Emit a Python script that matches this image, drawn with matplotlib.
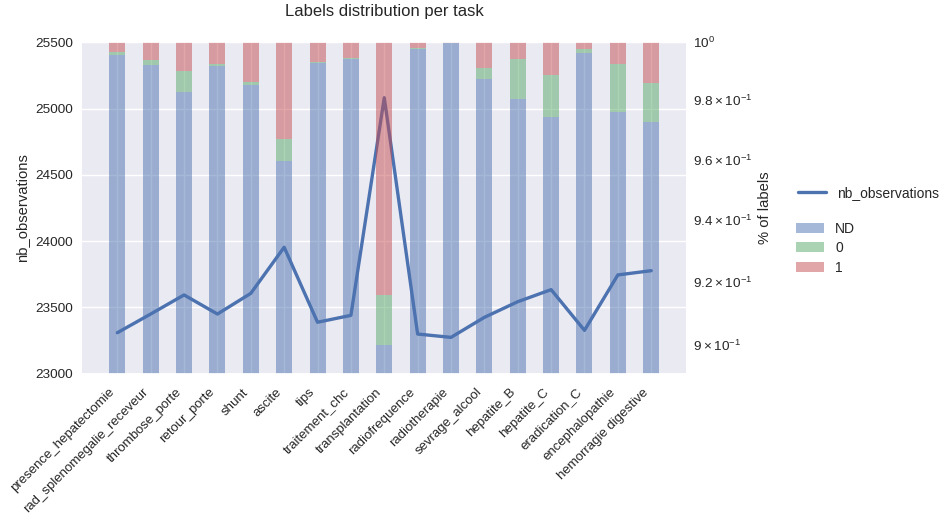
import numpy as np
import matplotlib as mpl
import matplotlib.pyplot as plt
import seaborn as sns

################################################################################
########    DATA
################################################################################

tasks = ['presence_hepatectomie', 'rad_splenomegalie_receveur', 'thrombose_porte',
         'retour_porte', 'shunt', 'ascite', 'tips', 'traitement_chc',
         'transplantation', 'radiofrequence', 'radiotherapie', 'sevrage_alcool',
         'hepatite_B', 'hepatite_C', 'eradication_C', 'encephalopathie',
         'hemorragie digestive']

# fraction of labels per task
frac_nd = [0.9956, 0.9921, 0.9828, 0.9918, 0.9852, 0.9594, 0.9927, 0.9942,
           0.8999, 0.9977, 0.9996, 0.9874, 0.9804, 0.9742, 0.9964, 0.9761,
           0.9726]
frac_0 = [0.0011, 0.0017, 0.0074, 0.0005, 0.0011, 0.0075, 0.0005, 0.0004,
          0.0157, 0.0004, 0.0001, 0.0038, 0.0137, 0.0145, 0.0014, 0.0164,
          0.0134]
frac_1 = [1 - a - b for a, b in zip(frac_nd, frac_0)]

nb_observations = [23309, 23450, 23594, 23450, 23606, 23954, 23388, 23440,
                   25082, 23299, 23274, 23425, 23543, 23634, 23327, 23745,
                   23777]

################################################################################
########    PLOT
################################################################################

sns.set_theme(style='darkgrid', context='notebook',
              rc={'xtick.labelsize': 9.5, 'ytick.labelsize': 9.7,
                  'legend.fontsize': 10, 'axes.labelsize': 10.6,
                  'axes.titlesize': 12})
plt.rcParams['font.family'] = ['Liberation Sans', 'DejaVu Sans']

fig = plt.figure(figsize=(9.43, 5.19), dpi=100)
ax = fig.add_axes([0.0862, 0.28, 0.6426, 0.6385])
x = np.arange(len(tasks))

# line on the primary axis (drawn under the translucent bars)
ax.plot(x, nb_observations, color='#4C72B0', lw=2.4, label='nb_observations')
ax.set_ylim(23000, 25500)
ax.set_ylabel('nb_observations')
ax.set_xticks(x)
ax.set_xticklabels(tasks, rotation=45, ha='right')
ax.set_xlim(-1.08, 17.08)
ax.tick_params(axis='y', pad=6, length=0)
ax.tick_params(axis='x', pad=9, length=0)
ax.set_title('Labels distribution per task', pad=19)

# stacked bars on the twin axis
ax2 = ax.twinx()
ax2.grid(False)
ax2.set_yscale('log')
w = 0.48
ax2.bar(x, frac_nd, width=w, color='#4C72B0', alpha=0.5, lw=0, label='ND')
ax2.bar(x, frac_0, width=w, bottom=frac_nd, color='#55A868', alpha=0.5, lw=0,
        label='0')
bot = [a + b for a, b in zip(frac_nd, frac_0)]
ax2.bar(x, frac_1, width=w, bottom=bot, color='#C44E52', alpha=0.5, lw=0,
        label='1')
ax2.set_ylim(0.891, 1.0)
ax2.set_ylabel('% of labels')
ax2.tick_params(axis='y', which='both', pad=4, length=0)

ax.legend(loc='center left', bbox_to_anchor=(0.833, 0.628),
          bbox_transform=fig.transFigure, frameon=False)
ax2.legend(loc='center left', bbox_to_anchor=(0.831, 0.522),
           bbox_transform=fig.transFigure, frameon=False, labelspacing=0.4)

plt.savefig('out.png', dpi=100)
